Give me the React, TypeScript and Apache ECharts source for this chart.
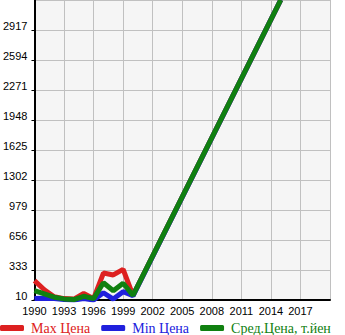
import React, { useEffect, useRef } from "react";
import * as echarts from "echarts";

const years = [1990, 1991, 1992, 1993, 1994, 1995, 1996, 1997, 1998, 1999, 2000, 2015];
const maxPrice = [218, 120, 45, 25, 20, 80, 25, 300, 280, 340, 60, 3240];
const minPrice = [25, 30, 25, 15, 10, 25, 10, 88, 20, 100, 55, 3240];
const avgPrice = [110, 75, 40, 22, 15, 50, 25, 196, 110, 190, 60, 3240];
const yTicks = [10, 333, 656, 979, 1302, 1625, 1948, 2271, 2594, 2917];

const Y0 = 10;
const STEP = 323;
const X0 = 1990;

const toData = (vals: number[]) => years.map((y, i) => [y - X0, vals[i] - Y0]);

export default function App() {
  const ref = useRef<HTMLDivElement>(null);
  useEffect(() => {
    const chart = echarts.init(ref.current!, null, { renderer: "svg" });
    chart.setOption({
      animation: false,
      grid: {
        left: 31,
        right: 15,
        top: 0,
        bottom: 35,
        show: true,
        backgroundColor: "#f5f5f5",
        borderWidth: 0,
        containLabel: false,
      },
      xAxis: {
        type: "value",
        min: 0,
        max: 30,
        interval: 3,
        axisLine: { show: true, onZero: false, lineStyle: { color: "#000", width: 2 } },
        axisTick: { show: false },
        splitLine: { show: true, lineStyle: { color: "#c0c0c0", width: 1 } },
        axisLabel: {
          color: "#000",
          fontFamily: "Liberation Sans",
          fontSize: 11,
          margin: 5,
          showMaxLabel: false,
          formatter: (v: number) => String(v + X0),
        },
      },
      yAxis: {
        type: "value",
        min: 0,
        max: STEP * 10,
        interval: STEP,
        axisLine: { show: true, lineStyle: { color: "#000", width: 2 } },
        axisTick: { show: true, length: 3, lineStyle: { color: "#000", width: 1 } },
        splitLine: { show: true, lineStyle: { color: "#c0c0c0", width: 1 } },
        axisLabel: {
          color: "#000",
          fontFamily: "Liberation Sans",
          fontSize: 11,
          margin: 7,
          showMaxLabel: false,
          verticalAlign: "bottom",
          lineHeight: 9,
          formatter: (v: number) => {
            const idx = Math.round(v / STEP);
            return yTicks[idx] !== undefined ? String(yTicks[idx]) : "";
          },
        },
      },
      legend: {
        bottom: 0,
        left: 0,
        padding: [0, 0, 0, 0],
        itemGap: 11,
        itemWidth: 24,
        itemHeight: 6,
        textStyle: { fontFamily: "Liberation Serif", fontSize: 14, padding: [0, 0, 0, 2] },
        icon: "roundRect",
        data: [
          { name: "Max Цена", textStyle: { color: "#dd2020" } },
          { name: "Min Цена", textStyle: { color: "#2020dd" } },
          { name: "Сред.Цена, т.йен", textStyle: { color: "#108010" } },
        ],
      },
      series: [
        {
          name: "Max Цена",
          type: "line",
          data: toData(maxPrice),
          showSymbol: false,
          symbol: "none",
          clip: true,
          lineStyle: { color: "#dd2020", width: 5 },
          itemStyle: { color: "#dd2020" },
        },
        {
          name: "Min Цена",
          type: "line",
          data: toData(minPrice),
          showSymbol: false,
          symbol: "none",
          clip: true,
          lineStyle: { color: "#2020dd", width: 5 },
          itemStyle: { color: "#2020dd" },
        },
        {
          name: "Сред.Цена, т.йен",
          type: "line",
          data: toData(avgPrice),
          showSymbol: false,
          symbol: "none",
          clip: true,
          lineStyle: { color: "#108010", width: 5 },
          itemStyle: { color: "#108010" },
        },
      ],
    });
    return () => chart.dispose();
  }, []);
  return <div ref={ref} style={{ width: 345, height: 335, position: "absolute", left: 0, top: 0 }} />;
}
